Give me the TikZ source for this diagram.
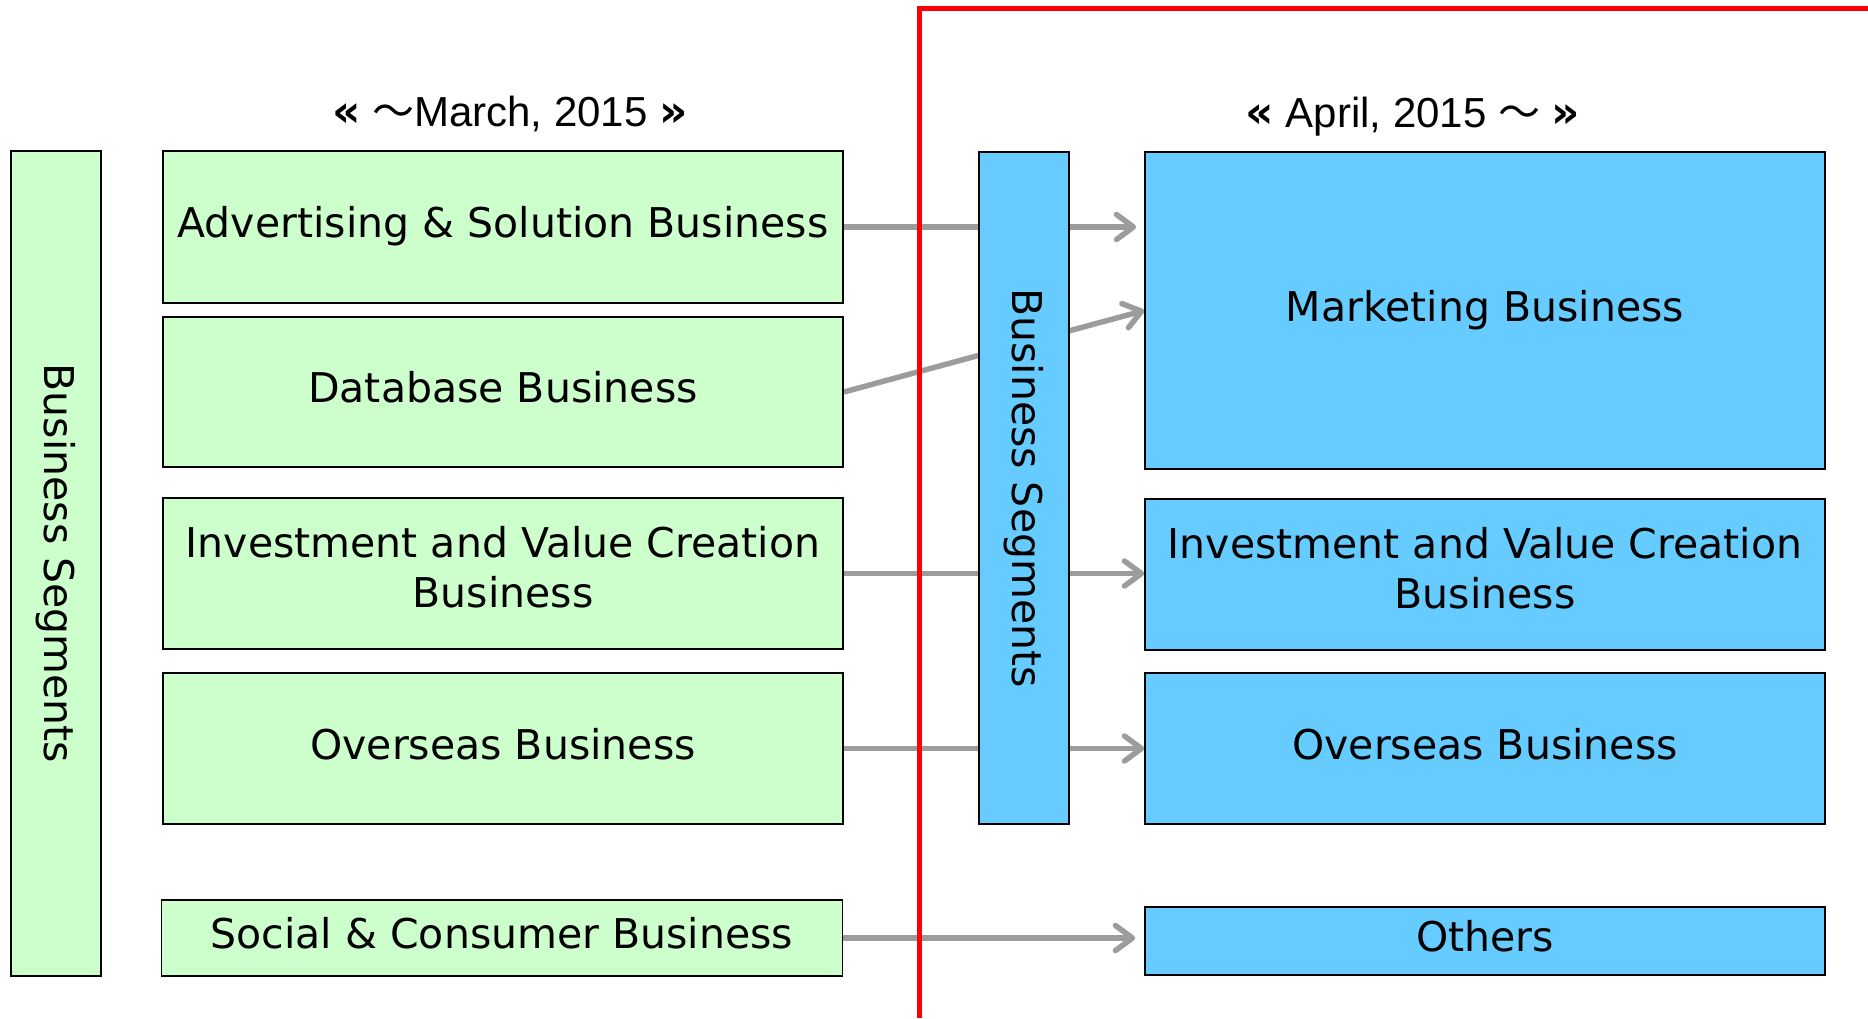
\documentclass[tikz,border=0pt]{standalone}
\usepackage{fontspec}
\setmainfont{DejaVu Sans}
\newfontfamily\headfont{Liberation Sans}
\newfontfamily\guilfont{DejaVu Sans Bold}
\newfontfamily\cjkfont{Noto Sans CJK JP}
\usetikzlibrary{arrows.meta}
\pgfdeclarelayer{behind}
\pgfsetlayers{behind,main}
\definecolor{segGreen}{HTML}{CCFFCC}
\definecolor{segBlue}{HTML}{66CCFF}
\definecolor{flowGray}{HTML}{9C9C9C}
\definecolor{cutRed}{HTML}{FF0000}
% two-line label, nudged slightly inside its box
\newcommand{\twolines}[2]{\raisebox{1pt}[\height][\depth]{%
  \begin{tabular}{@{}c@{}}#1\\#2\end{tabular}}}
\newcommand{\guilL}{{\guilfont\fontsize{44}{50}\selectfont «}}
\newcommand{\guilR}{{\guilfont\fontsize{44}{50}\selectfont »}}
\tikzset{
  seg/.style={draw=black, line width=1.6pt, inner sep=0pt, minimum width=680pt,
    font=\fontsize{41}{50}\selectfont, text height=31pt, text depth=10pt},
  segml/.style={draw=black, line width=1.6pt, inner sep=0pt, minimum width=680pt,
    font=\fontsize{41}{50}\selectfont},
  oldseg/.style={fill=segGreen},
  newseg/.style={fill=segBlue},
  bar/.style={draw=black, line width=1.6pt, inner sep=0pt, minimum width=90pt,
    font=\fontsize{41}{50}\selectfont},
  heading/.style={font=\headfont\fontsize{42}{50}\selectfont, anchor=base},
  flow/.style={draw=flowGray, line width=5.5pt,
    -{Straight Barb[length=17pt, width=25pt, line cap=round, line join=round]}},
}
\begin{document}
\begin{tikzpicture}[x=1pt, y=-1pt]
\useasboundingbox (0,0) rectangle (1868,1018);

% headings
\node[heading] (hold) at (510,126) {\guilL{} {\cjkfont ～}March, 2015 \guilR};
\node[heading] (hnew) at (1413,127) {\guilL{} April, 2015 {\cjkfont ～} \guilR};

% segments until March 2015
\node[bar, oldseg, minimum height=825pt] (oldbar) at (56,563.5)
  {\rotatebox{-90}{Business Segments}};
\node[seg, oldseg, minimum height=152pt] (adv) at (503,227) {Advertising \& Solution Business};
\node[seg, oldseg, minimum height=150pt] (db) at (503,392) {Database Business};
\node[segml, oldseg, minimum height=151pt] (inv) at (503,573.5)
  {\twolines{Investment and Value Creation}{Business}};
\node[seg, oldseg, minimum height=151pt] (ovs) at (503,748.5) {Overseas Business};
\node[seg, oldseg, minimum width=681pt, minimum height=76pt] (soc) at (502,938)
  {Social \& Consumer Business};

% segments from April 2015
\node[bar, newseg, minimum height=672pt] (newbar) at (1024,488)
  {\rotatebox{-90}{Business Segments}};
\node[seg, newseg, minimum height=317pt] (mkt) at (1485,310.5) {Marketing Business};
\node[segml, newseg, minimum height=151pt] (inv2) at (1485,574.5)
  {\twolines{Investment and Value Creation}{Business}};
\node[seg, newseg, minimum height=151pt] (ovs2) at (1485,748.5) {Overseas Business};
\node[seg, newseg, minimum height=68pt] (oth) at (1485,941) {Others};

% reorganisation flows, drawn beneath the segment bar
\begin{pgfonlayer}{behind}
  \draw[flow, shorten >=8pt] (adv.east) -- (adv.east -| mkt.west);
  \draw[flow] (db.east) -- (mkt.west);
  \draw[flow] (inv.east) -- (inv.east -| inv2.west);
  \draw[flow] (ovs.east) -- (ovs.east -| ovs2.west);
  \draw[flow, shorten >=9pt] (soc.east) -- (soc.east -| oth.west);
\end{pgfonlayer}

% boundary of the new structure
\coordinate (cutbot) at (919,1018);
\coordinate (cutcorner) at (919,8);
\coordinate (cutright) at (1868,8);
\draw[cutRed, line width=5pt] (cutbot) -- (cutcorner) -- (cutright);
\end{tikzpicture}
\end{document}
